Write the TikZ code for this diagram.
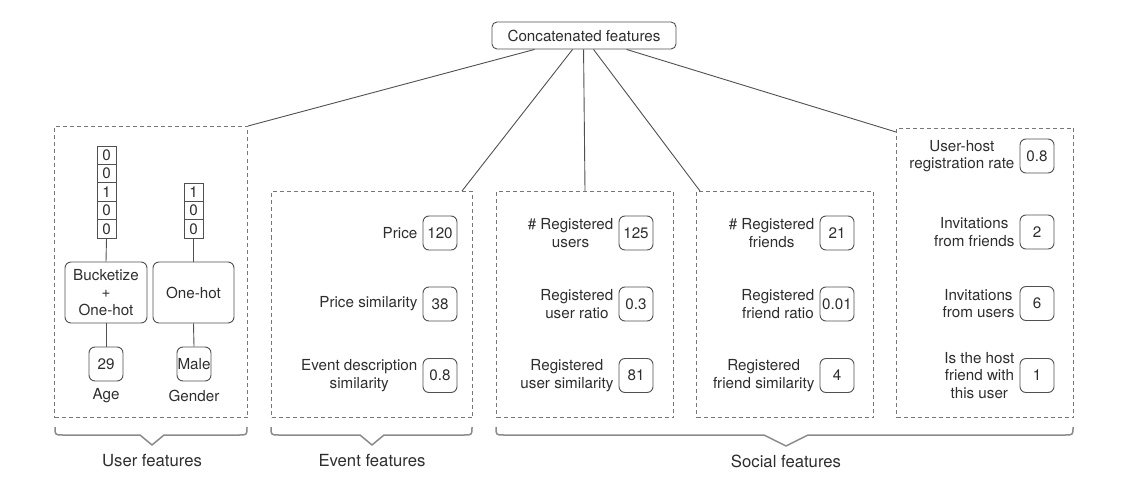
\documentclass[tikz,border=0pt]{standalone}
\usepackage{fontspec}
\setmainfont{TeX Gyre Heros}
\usetikzlibrary{calc}
\definecolor{txt}{HTML}{2E2E2E}
\definecolor{boxc}{HTML}{505050}
\definecolor{dashc}{HTML}{777777}
\definecolor{bracec}{HTML}{8A8A8A}
\begin{document}
\begin{tikzpicture}[x=1pt,y=-1pt,
  every node/.style={text=txt, font=\fontsize{15.2}{17.5}\selectfont},
  valbox/.style={draw=boxc, rounded corners=6pt, minimum width=34pt, minimum height=34pt, inner sep=0pt, line width=0.9pt},
  lab/.style={align=center, anchor=east, inner sep=0pt},
  group/.style={draw=dashc, dash pattern=on 4pt off 3pt, line width=1pt, anchor=north west, inner sep=0pt},
  cell/.style={draw=boxc, line width=0.9pt, minimum width=19pt, minimum height=18.4pt, inner sep=0pt},
  opbox/.style={draw=boxc, rounded corners=6pt, line width=0.9pt, minimum width=82pt, minimum height=61pt, inner sep=0pt, align=center},
  conn/.style={draw=boxc, line width=0.9pt},
  brace/.style={draw=bracec, line width=1.5pt, line join=round},
  grouplab/.style={font=\fontsize{16.7}{19}\selectfont}
]
\useasboundingbox (0,0) rectangle (1134,481);

% top node
\node[draw=boxc, rounded corners=5pt, line width=0.9pt, minimum width=184pt, minimum height=27pt, inner sep=0pt] (concat) at (584,35.5) {Concatenated features};

% groups
\node[group, minimum width=193pt, minimum height=291pt] (ubox) at (54,126) {};
\node[group, minimum width=201pt, minimum height=226pt] (ebox) at (271,191) {};
\node[group, minimum width=177pt, minimum height=226pt] (sbox1) at (496,191) {};
\node[group, minimum width=177pt, minimum height=226pt] (sbox2) at (696,191) {};
\node[group, minimum width=177pt, minimum height=289pt] (rbox) at (896,128) {};

% connectors from top
\coordinate (c1) at ($(concat.south west)+(43,0)$);
\coordinate (c2) at ($(concat.south west)+(81,0)$);
\coordinate (c3) at ($(concat.south west)+(92,0)$);
\coordinate (c4) at ($(concat.south west)+(102,0)$);
\coordinate (c5) at ($(concat.south west)+(135,0)$);
\draw[conn] (c1) -- (ubox.north east);
\draw[conn] (c2) -- ($(ebox.north east)+(-11,0)$);
\draw[conn] (c3) -- (sbox1.north);
\draw[conn] (c4) -- ($(sbox2.north west)+(4,0)$);
\draw[conn] (c5) -- ($(rbox.north west)+(0,4)$);

% user features
\foreach \d [count=\i] in {0,0,1,0,0}
  \node[cell] (va\i) at (106.5,{155.2+18.4*(\i-1)}) {\d};
\foreach \d [count=\i] in {1,0,0}
  \node[cell] (vb\i) at (193.5,{192.2+18.4*(\i-1)}) {\d};
\node[opbox] (buck) at (106,292.5) {Bucketize\\+\\One-hot};
\node[opbox, minimum width=81pt] (onehot) at (193.5,292.5) {One-hot};
\node[valbox] (age) at (106,364) {29};
\node[valbox] (male) at (194,364) {Male};
\node[inner sep=0pt] (agel) at (106,396) {Age};
\node[inner sep=0pt] (genl) at (194,396) {Gender};
\draw[conn] (va5.south) -- (buck.north);
\draw[conn] (vb3.south) -- (onehot.north);
\draw[conn] (buck.south) -- (age.north);
\draw[conn] (onehot.south) -- (male.north);

% event features
\node[valbox] (e1) at (440,233) {120};
\node[valbox] (e2) at (440,304) {38};
\node[valbox] (e3) at (440,375.5) {0.8};
\node[lab] (e1l) at ($(e1.west)+(-5,0)$) {Price};
\node[lab] (e2l) at ($(e2.west)+(-5,0)$) {Price similarity};
\node[lab] (e3l) at ($(e3.west)+(-5,0)$) {Event description\\similarity};

% social 1
\node[valbox] (s1) at (636,233) {125};
\node[valbox] (s2) at (636,304) {0.3};
\node[valbox] (s3) at (636,375.5) {81};
\node[lab] (s1l) at ($(s1.west)+(-5,0)$) {\# Registered\\users};
\node[lab] (s2l) at ($(s2.west)+(-5,0)$) {Registered\\user ratio};
\node[lab] (s3l) at ($(s3.west)+(-5,0)$) {Registered\\user similarity};

% social 2
\node[valbox] (f1) at (837,233) {21};
\node[valbox] (f2) at (837,304) {0.01};
\node[valbox] (f3) at (837,375.5) {4};
\node[lab] (f1l) at ($(f1.west)+(-5,0)$) {\# Registered\\friends};
\node[lab] (f2l) at ($(f2.west)+(-5,0)$) {Registered\\friend ratio};
\node[lab] (f3l) at ($(f3.west)+(-5,0)$) {Registered\\friend similarity};

% right group
\node[valbox] (r1) at (1037,156) {0.8};
\node[valbox] (r2) at (1037,232) {2};
\node[valbox] (r3) at (1037,303.5) {6};
\node[valbox] (r4) at (1037,375.5) {1};
\node[lab] (r1l) at ($(r1.west)+(-5,0)$) {User-host\\registration rate};
\node[lab] (r2l) at ($(r2.west)+(-5,0)$) {Invitations\\from friends};
\node[lab] (r3l) at ($(r3.west)+(-5,0)$) {Invitations\\from users};
\node[lab] (r4l) at ($(r4.west)+(-5,0)$) {Is the host\\friend with\\this user};

% braces
\draw[brace] (55,427) .. controls (55,435) .. (63,435) -- (140,435) -- (152,445) -- (164,435) -- (239,435) .. controls (247,435) .. (247,427);
\draw[brace] (271,427) .. controls (271,435) .. (279,435) -- (360,435) -- (372,445) -- (384,435) -- (464,435) .. controls (472,435) .. (472,427);
\draw[brace] (496,427) .. controls (496,435) .. (504,435) -- (764,435) -- (786,446) -- (808,435) -- (1065,435) .. controls (1073,435) .. (1073,427);

\node[grouplab] (ul) at (152,461) {User features};
\node[grouplab] (el) at (372,461) {Event features};
\node[grouplab] (sl) at (786,461) {Social features};
\end{tikzpicture}
\end{document}
